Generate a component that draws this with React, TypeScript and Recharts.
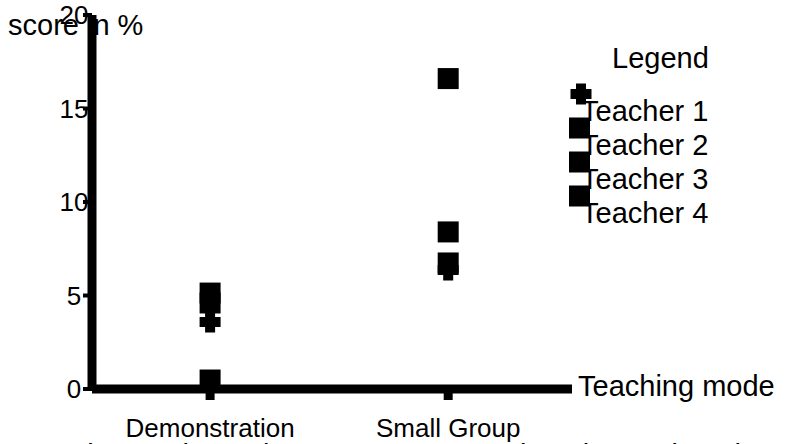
import { Legend, Scatter, ScatterChart, XAxis, YAxis } from 'recharts';

const modes = ['Demonstration', 'Small Group'];
const modeTicks = [1, 2];
const scoreTicks = [0, 5, 10, 15, 20];
const teachers = ['Teacher 1', 'Teacher 2', 'Teacher 3', 'Teacher 4'];
const teacher1 = [3.58, 6.36];
const teacher2 = [5.13, 16.6];
const teacher3 = [4.6, 8.4];
const teacher4 = [0.48, 6.74];
// second row of category labels, clipped by the bottom of the picture
const moreModes = ['Question & Discussion', 'Explanation and Oral Reading'];

const series = [teacher1, teacher2, teacher3, teacher4];
const toPoints = (vals: number[]) => vals.map((v, i) => ({ x: modeTicks[i], y: v }));

const font = "'Liberation Sans', Arial, sans-serif";
const fs = 26;
const big = 29;

const Square = (props: any) => (
  <rect x={props.cx - 10.5} y={props.cy - 10.5} width={21} height={21} fill='#000' />
);

const plusPath = (cx: number, cy: number) =>
  `M${cx - 5},${cy - 10.5}h10v5.5h5.5v10h-5.5v5.5h-10v-5.5h-5.5v-10h5.5z`;

const Plus = (props: any) => <path d={plusPath(props.cx, props.cy)} fill='#000' />;

const YTick = ({ y, payload }: any) => (
  <text x={74} y={y + 9} textAnchor='middle' fontFamily={font} fontSize={fs} fill='#000'>
    {payload.value}
  </text>
);

const XTick = ({ x, payload }: any) => (
  <text x={x} y={437} textAnchor='middle' fontFamily={font} fontSize={fs} fill='#000'>
    {modes[modeTicks.indexOf(payload.value)]}
  </text>
);

const LegendBox = () => (
  <svg width={788} height={444}>
    <text x={612} y={68} fontFamily={font} fontSize={big} fill='#000'>
      Legend
    </text>
    {teachers.map((name, i) => {
      const cy = 94 + i * 34;
      return (
        <g key={name}>
          <text x={581} y={cy + 27} fontFamily={font} fontSize={big} fill='#000'>
            {name}
          </text>
          {i === 0 ? (
            <path d={plusPath(581, cy)} fill='#000' />
          ) : (
            <rect x={569} y={cy - 10.5} width={21} height={21} fill='#000' />
          )}
        </g>
      );
    })}
  </svg>
);

export default function App() {
  return (
    <div
      style={{
        position: 'absolute',
        left: 0,
        top: 0,
        width: 788,
        height: 444,
        overflow: 'hidden',
        background: '#fff',
        fontFamily: font,
      }}>
      <svg width={788} height={444} style={{ position: 'absolute', left: 0, top: 0 }}>
        <text x={8} y={35} fontFamily={font} fontSize={big} fill='#000'>
          score in %
        </text>
        <text x={578} y={396} fontFamily={font} fontSize={big} fill='#000'>
          Teaching mode
        </text>
        <text x={10} y={465} fontFamily={font} fontSize={big} fill='#000'>
          {moreModes[0]}
        </text>
        <text x={470} y={465} fontFamily={font} fontSize={big} fill='#000'>
          {moreModes[1]}
        </text>
      </svg>
      <div style={{ position: 'absolute', left: 0, top: 0 }}>
        <ScatterChart
          width={788}
          height={444}
          margin={{ top: 15, right: 216, bottom: 0, left: 0 }}>
          <XAxis
            type='number'
            dataKey='x'
            domain={[0.504, 2.52]}
            ticks={modeTicks}
            height={55}
            axisLine={{ stroke: '#000', strokeWidth: 9 }}
            tickLine={{ stroke: '#000', strokeWidth: 9 }}
            tickSize={11}
            tick={<XTick />}
          />
          <YAxis
            type='number'
            dataKey='y'
            domain={[0, 20]}
            ticks={scoreTicks}
            width={92}
            axisLine={{ stroke: '#000', strokeWidth: 9 }}
            tickLine={{ stroke: '#000', strokeWidth: 4 }}
            tickSize={9}
            tick={<YTick />}
          />
          {series.map((vals, i) => (
            <Scatter
              key={teachers[i]}
              name={teachers[i]}
              data={toPoints(vals)}
              fill='#000'
              shape={i === 0 ? Plus : Square}
              isAnimationActive={false}
            />
          ))}
          <Legend
            layout='vertical'
            align='center'
            verticalAlign='middle'
            content={<LegendBox />}
            wrapperStyle={{ left: 0, top: 0, width: 788, height: 444, pointerEvents: 'none' }}
          />
        </ScatterChart>
      </div>
    </div>
  );
}
